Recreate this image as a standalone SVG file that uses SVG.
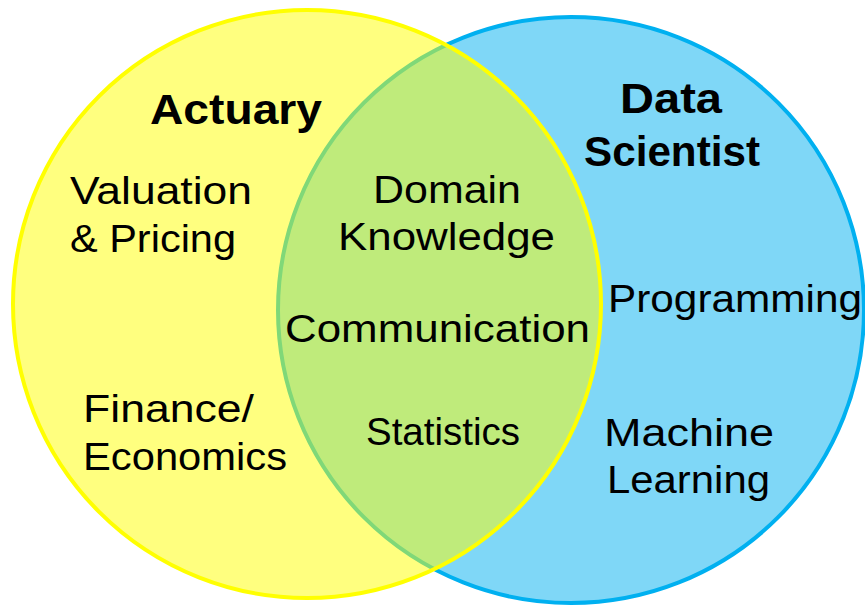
<svg xmlns="http://www.w3.org/2000/svg" width="865" height="607" viewBox="0 0 865 607">
<style>
.t{font-family:"Liberation Sans",Arial,sans-serif;font-size:38px;fill:#000}
.b{font-weight:bold;font-size:42px}
</style>
<rect width="865" height="607" fill="#fff"/>
<g id="data-scientist-circle">
<circle cx="571" cy="310" r="293" fill="#00B0F0" fill-opacity="0.5" stroke="#00B0F0" stroke-width="4"/>
</g>
<g id="actuary-circle">
<circle cx="307" cy="304" r="294" fill="#FFFF00" fill-opacity="0.5" stroke="#FFFF00" stroke-width="4"/>
</g>
<g id="labels-actuary">
<text class="t b" x="150" y="124" textLength="172" lengthAdjust="spacingAndGlyphs">Actuary</text>
<text class="t" x="70" y="204" textLength="182" lengthAdjust="spacingAndGlyphs">Valuation</text>
<text class="t" x="70" y="252" textLength="166" lengthAdjust="spacingAndGlyphs">&amp; Pricing</text>
<text class="t" x="83" y="422" textLength="171" lengthAdjust="spacingAndGlyphs">Finance/</text>
<text class="t" x="83" y="470" textLength="204" lengthAdjust="spacingAndGlyphs">Economics</text>
</g>
<g id="labels-overlap">
<text class="t" x="373" y="203" textLength="148" lengthAdjust="spacingAndGlyphs">Domain</text>
<text class="t" x="338" y="250" textLength="217" lengthAdjust="spacingAndGlyphs">Knowledge</text>
<text class="t" x="285" y="342" textLength="305" lengthAdjust="spacingAndGlyphs">Communication</text>
<text class="t" x="366" y="445" textLength="154" lengthAdjust="spacingAndGlyphs">Statistics</text>
</g>
<g id="labels-data-scientist">
<text class="t b" x="620" y="113" textLength="102" lengthAdjust="spacingAndGlyphs">Data</text>
<text class="t b" x="584" y="166" textLength="176" lengthAdjust="spacingAndGlyphs">Scientist</text>
<text class="t" x="608" y="312" textLength="254" lengthAdjust="spacingAndGlyphs">Programming</text>
<text class="t" x="604" y="446" textLength="170" lengthAdjust="spacingAndGlyphs">Machine</text>
<text class="t" x="607" y="493" textLength="163" lengthAdjust="spacingAndGlyphs">Learning</text>
</g>
</svg>
